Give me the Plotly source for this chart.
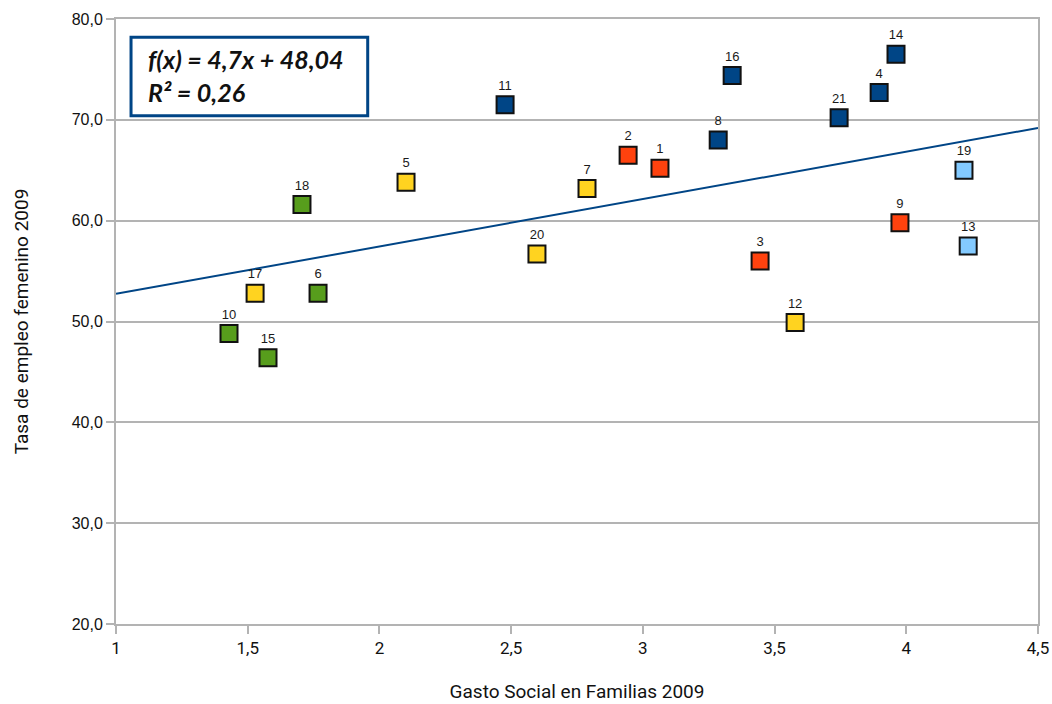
import plotly.graph_objects as go

# Data: region id, social spending on families (x), female employment rate (y), colour group
ids = ["1", "2", "3", "4", "5", "6", "7", "8", "9", "10", "11",
       "12", "13", "14", "15", "16", "17", "18", "19", "20", "21"]
gasto = [3.065, 2.944, 3.445, 3.897, 2.101, 1.767, 2.788, 3.286, 3.976, 1.429, 2.477,
         3.578, 4.235, 3.961, 1.577, 3.339, 1.528, 1.706, 4.219, 2.598, 3.745]
empleo = [65.2, 66.5, 56.0, 72.7, 63.8, 52.8, 63.2, 68.0, 59.8, 48.8, 71.5,
          49.9, 57.5, 76.5, 46.4, 74.4, 52.8, 61.6, 65.0, 56.7, 70.2]
grupo = ["rojo", "rojo", "rojo", "azul", "amarillo", "verde", "amarillo", "azul", "rojo", "verde", "azul",
         "amarillo", "celeste", "azul", "verde", "azul", "amarillo", "verde", "celeste", "amarillo", "azul"]

colores = {
    "azul": "#004586",
    "rojo": "#ff420e",
    "amarillo": "#ffd320",
    "verde": "#579d1c",
    "celeste": "#83caff",
}

# Linear trend: f(x) = 4.7x + 48.04
pendiente = 4.7
ordenada = 48.04
x_rango = [1, 4.5]

fig = go.Figure()

fig.add_trace(go.Scatter(
    x=x_rango,
    y=[pendiente * v + ordenada for v in x_rango],
    mode="lines",
    line=dict(color="#004586", width=2),
    hoverinfo="skip",
    showlegend=False,
))

for g, c in colores.items():
    idx = [i for i, gg in enumerate(grupo) if gg == g]
    fig.add_trace(go.Scatter(
        x=[gasto[i] for i in idx],
        y=[empleo[i] for i in idx],
        text=[ids[i] for i in idx],
        mode="markers+text",
        textposition="top center",
        textfont=dict(family="Liberation Sans", size=13, color="#1a1a1a"),
        marker=dict(symbol="square", size=17, color=c,
                    line=dict(color="#111111", width=2)),
        showlegend=False,
    ))

fig.add_shape(type="rect", xref="paper", yref="paper",
              x0=0.0163, x1=0.273, y0=0.840, y1=0.970,
              line=dict(color="#004586", width=3), fillcolor="white", layer="above")
fig.add_annotation(xref="paper", yref="paper", x=0.033, y=0.906,
                   xanchor="left", yanchor="middle", align="left", showarrow=False,
                   text="<b><i>f(x) = 4,7x + 48,04<br>R² = 0,26</i></b>",
                   font=dict(family="Lato", size=25, color="#111111"))

fig.update_layout(
    width=1052, height=704,
    margin=dict(l=116, r=14, t=19, b=80),
    paper_bgcolor="white",
    plot_bgcolor="white",
    separators=",.",
    xaxis=dict(
        range=[1, 4.5], dtick=0.5, tick0=1, automargin=False,
        showgrid=False, zeroline=False,
        showline=True, linecolor="#b3b3b3", linewidth=2, mirror=True,
        ticks="outside", ticklen=8, tickcolor="#b3b3b3", tickwidth=2,
        tickfont=dict(family="Roboto", size=17, color="#111111"),
        title=dict(text="Gasto Social en Familias 2009",
                   font=dict(family="Roboto", size=19, color="#111111"),
                   standoff=27),
    ),
    yaxis=dict(
        range=[20, 80], dtick=10, tickformat=".1f", automargin=False,
        showgrid=True, gridcolor="#b3b3b3", gridwidth=2, zeroline=False,
        showline=True, linecolor="#b3b3b3", linewidth=2, mirror=True,
        ticks="outside", ticklen=8, tickcolor="#b3b3b3", tickwidth=2,
        tickfont=dict(family="Liberation Sans", size=16, color="#111111"),
        title=dict(text="Tasa de empleo femenino 2009",
                   font=dict(family="Roboto", size=19, color="#111111"),
                   standoff=38),
    ),
)

fig.write_html("out.html")
